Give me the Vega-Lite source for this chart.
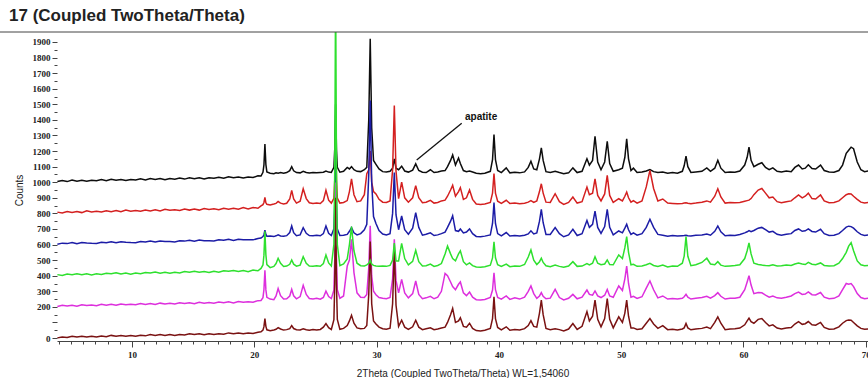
{
"$schema": "https://vega.github.io/schema/vega-lite/v6.json",
"width": 811, "height": 309,
"autosize": {"type": "none"},
"padding": {"left": 57, "top": 32, "right": 0, "bottom": 37},
"background": "white",
"config": {"view": {"stroke": null}, "font": "Liberation Sans"},
"title": {"text": "17 (Coupled TwoTheta/Theta)", "anchor": "start", "frame": "group", "dx": -48, "offset": 7, "fontSize": 17, "fontWeight": "bold", "font": "Liberation Sans", "color": "#222"},
"datasets": {
"xrd": [
{"x":3.9,"k":1004,"r":808,"b":602,"g":407,"m":203,"n":1},
{"x":4.3,"k":1011,"r":803,"b":609,"g":402,"m":210,"n":7},
{"x":4.7,"k":1004,"r":812,"b":606,"g":411,"m":205,"n":4},
{"x":5.1,"k":1014,"r":806,"b":613,"g":407,"m":211,"n":12},
{"x":5.5,"k":1007,"r":812,"b":605,"g":413,"m":204,"n":6},
{"x":5.9,"k":1013,"r":805,"b":613,"g":406,"m":214,"n":12},
{"x":6.3,"k":1006,"r":816,"b":610,"g":412,"m":209,"n":6},
{"x":6.7,"k":1013,"r":809,"b":608,"g":405,"m":212,"n":12},
{"x":7.1,"k":1009,"r":813,"b":607,"g":412,"m":208,"n":6},
{"x":7.5,"k":1017,"r":809,"b":615,"g":408,"m":216,"n":13},
{"x":7.9,"k":1009,"r":817,"b":611,"g":416,"m":210,"n":9},
{"x":8.3,"k":1019,"r":811,"b":618,"g":412,"m":216,"n":17},
{"x":8.7,"k":1013,"r":818,"b":611,"g":419,"m":210,"n":12},
{"x":9.1,"k":1018,"r":810,"b":618,"g":411,"m":219,"n":17},
{"x":9.5,"k":1011,"r":821,"b":615,"g":417,"m":214,"n":11},
{"x":9.9,"k":1018,"r":814,"b":613,"g":410,"m":217,"n":17},
{"x":10.3,"k":1014,"r":818,"b":612,"g":417,"m":213,"n":11},
{"x":10.7,"k":1022,"r":814,"b":620,"g":413,"m":221,"n":18},
{"x":11.1,"k":1014,"r":822,"b":616,"g":421,"m":215,"n":14},
{"x":11.5,"k":1024,"r":816,"b":623,"g":417,"m":221,"n":22},
{"x":11.9,"k":1018,"r":823,"b":616,"g":424,"m":215,"n":17},
{"x":12.3,"k":1023,"r":815,"b":623,"g":416,"m":224,"n":22},
{"x":12.7,"k":1016,"r":826,"b":620,"g":422,"m":219,"n":16},
{"x":13.1,"k":1024,"r":820,"b":619,"g":416,"m":223,"n":23},
{"x":13.5,"k":1019,"r":823,"b":617,"g":422,"m":218,"n":16},
{"x":13.9,"k":1027,"r":819,"b":625,"g":418,"m":226,"n":23},
{"x":14.3,"k":1020,"r":828,"b":622,"g":427,"m":221,"n":20},
{"x":14.7,"k":1029,"r":821,"b":628,"g":422,"m":226,"n":27},
{"x":15.1,"k":1023,"r":828,"b":621,"g":429,"m":220,"n":22},
{"x":15.5,"k":1029,"r":821,"b":629,"g":422,"m":230,"n":28},
{"x":15.9,"k":1021,"r":831,"b":625,"g":427,"m":224,"n":21},
{"x":16.3,"k":1029,"r":825,"b":624,"g":421,"m":228,"n":28},
{"x":16.7,"k":1025,"r":829,"b":623,"g":428,"m":224,"n":22},
{"x":17.1,"k":1032,"r":824,"b":630,"g":423,"m":231,"n":28},
{"x":17.5,"k":1025,"r":833,"b":627,"g":432,"m":226,"n":25},
{"x":17.9,"k":1035,"r":827,"b":634,"g":428,"m":232,"n":33},
{"x":18.3,"k":1028,"r":833,"b":626,"g":434,"m":225,"n":27},
{"x":18.7,"k":1034,"r":826,"b":634,"g":427,"m":235,"n":33},
{"x":19.1,"k":1027,"r":837,"b":631,"g":433,"m":230,"n":27},
{"x":19.5,"k":1034,"r":829,"b":630,"g":426,"m":233,"n":33},
{"x":19.9,"k":1030,"r":838,"b":630,"g":436,"m":230,"n":29},
{"x":20.3,"k":1041,"r":833,"b":639,"g":432,"m":240,"n":37},
{"x":20.55,"k":1040,"r":848,"b":642,"g":447,"m":241,"n":40},
{"x":20.71,"k":1064,"r":856,"b":651,"g":469,"m":259,"n":51},
{"x":20.79,"k":1111,"r":870,"b":663,"g":532,"m":311,"n":73},
{"x":20.87,"k":1245,"r":902,"b":692,"g":685,"m":434,"n":125},
{"x":20.95,"k":1113,"r":868,"b":665,"g":534,"m":309,"n":75},
{"x":21.03,"k":1066,"r":858,"b":653,"g":471,"m":261,"n":53},
{"x":21.3,"k":1058,"r":854,"b":655,"g":452,"m":250,"n":47},
{"x":21.6,"k":1054,"r":860,"b":651,"g":460,"m":246,"n":52},
{"x":21.78,"k":1060,"r":864,"b":656,"g":478,"m":270,"n":56},
{"x":21.95,"k":1057,"r":876,"b":662,"g":512,"m":318,"n":67},
{"x":22.15,"k":1062,"r":866,"b":655,"g":480,"m":272,"n":58},
{"x":22.4,"k":1058,"r":860,"b":653,"g":459,"m":250,"n":51},
{"x":22.65,"k":1062,"r":865,"b":657,"g":462,"m":252,"n":54},
{"x":22.9,"k":1074,"r":892,"b":677,"g":473,"m":270,"n":60},
{"x":23.06,"k":1100,"r":948,"b":719,"g":501,"m":312,"n":80},
{"x":23.22,"k":1073,"r":893,"b":676,"g":474,"m":271,"n":61},
{"x":23.45,"k":1062,"r":866,"b":657,"g":461,"m":252,"n":53},
{"x":23.75,"k":1060,"r":878,"b":662,"g":468,"m":266,"n":52},
{"x":24.0,"k":1070,"r":958,"b":708,"g":522,"m":338,"n":60},
{"x":24.25,"k":1062,"r":895,"b":672,"g":480,"m":280,"n":53},
{"x":24.5,"k":1059,"r":868,"b":658,"g":462,"m":254,"n":50},
{"x":24.8,"k":1063,"r":864,"b":656,"g":460,"m":251,"n":54},
{"x":25.1,"k":1060,"r":867,"b":659,"g":464,"m":255,"n":52},
{"x":25.4,"k":1062,"r":863,"b":656,"g":461,"m":249,"n":55},
{"x":25.65,"k":1064,"r":882,"b":670,"g":478,"m":260,"n":70},
{"x":25.86,"k":1072,"r":948,"b":719,"g":533,"m":301,"n":93},
{"x":26.08,"k":1065,"r":885,"b":672,"g":482,"m":266,"n":66},
{"x":26.3,"k":1063,"r":866,"b":658,"g":462,"m":253,"n":55},
{"x":26.51,"k":1095,"r":897,"b":702,"g":602,"m":308,"n":118},
{"x":26.58,"k":1214,"r":1016,"b":861,"g":1088,"m":510,"n":348},
{"x":26.65,"k":1500,"r":1302,"b":1245,"g":2258,"m":998,"n":900},
{"x":26.72,"k":1212,"r":1018,"b":860,"g":1090,"m":512,"n":345},
{"x":26.79,"k":1096,"r":898,"b":700,"g":600,"m":310,"n":120},
{"x":27.0,"k":1064,"r":866,"b":658,"g":464,"m":255,"n":56},
{"x":27.3,"k":1070,"r":870,"b":660,"g":475,"m":270,"n":62},
{"x":27.6,"k":1095,"r":882,"b":665,"g":508,"m":462,"n":80},
{"x":27.78,"k":1085,"r":940,"b":685,"g":600,"m":500,"n":110},
{"x":27.95,"k":1100,"r":1022,"b":708,"g":715,"m":633,"n":146},
{"x":28.15,"k":1080,"r":920,"b":675,"g":560,"m":420,"n":95},
{"x":28.4,"k":1070,"r":875,"b":662,"g":480,"m":290,"n":65},
{"x":28.7,"k":1068,"r":880,"b":670,"g":464,"m":262,"n":60},
{"x":29.0,"k":1080,"r":920,"b":695,"g":462,"m":260,"n":62},
{"x":29.2,"k":1095,"r":1055,"b":730,"g":470,"m":280,"n":80},
{"x":29.36,"k":1400,"r":1080,"b":1050,"g":480,"m":450,"n":280},
{"x":29.48,"k":1920,"r":1200,"b":1525,"g":500,"m":720,"n":620},
{"x":29.6,"k":1350,"r":1000,"b":1000,"g":475,"m":400,"n":220},
{"x":29.75,"k":1140,"r":940,"b":780,"g":466,"m":300,"n":110},
{"x":29.95,"k":1115,"r":925,"b":735,"g":462,"m":278,"n":90},
{"x":30.2,"k":1085,"r":890,"b":690,"g":460,"m":260,"n":70},
{"x":30.5,"k":1068,"r":872,"b":668,"g":463,"m":255,"n":60},
{"x":30.8,"k":1065,"r":870,"b":662,"g":460,"m":252,"n":57},
{"x":31.1,"k":1070,"r":880,"b":670,"g":466,"m":260,"n":63},
{"x":31.31,"k":1090,"r":1080,"b":800,"g":500,"m":380,"n":220},
{"x":31.45,"k":1150,"r":1492,"b":1062,"g":610,"m":633,"n":565},
{"x":31.59,"k":1090,"r":1070,"b":790,"g":495,"m":370,"n":210},
{"x":31.8,"k":1080,"r":895,"b":695,"g":495,"m":290,"n":75},
{"x":32.05,"k":1103,"r":1001,"b":783,"g":608,"m":376,"n":114},
{"x":32.3,"k":1072,"r":900,"b":695,"g":510,"m":290,"n":70},
{"x":32.6,"k":1065,"r":872,"b":666,"g":470,"m":258,"n":56},
{"x":32.95,"k":1078,"r":900,"b":705,"g":492,"m":285,"n":72},
{"x":33.2,"k":1118,"r":978,"b":805,"g":563,"m":366,"n":114},
{"x":33.45,"k":1075,"r":900,"b":710,"g":490,"m":280,"n":70},
{"x":33.75,"k":1064,"r":868,"b":660,"g":462,"m":252,"n":54},
{"x":34.05,"k":1062,"r":872,"b":666,"g":464,"m":258,"n":60},
{"x":34.4,"k":1080,"r":884,"b":675,"g":475,"m":268,"n":66},
{"x":34.7,"k":1062,"r":866,"b":658,"g":460,"m":252,"n":54},
{"x":35.0,"k":1066,"r":870,"b":662,"g":466,"m":262,"n":58},
{"x":35.3,"k":1072,"r":880,"b":670,"g":478,"m":300,"n":64},
{"x":35.6,"k":1075,"r":885,"b":680,"g":540,"m":415,"n":70},
{"x":35.8,"k":1100,"r":910,"b":710,"g":590,"m":400,"n":100},
{"x":36.05,"k":1140,"r":950,"b":750,"g":540,"m":360,"n":150},
{"x":36.22,"k":1175,"r":980,"b":785,"g":510,"m":330,"n":190},
{"x":36.45,"k":1110,"r":910,"b":690,"g":495,"m":310,"n":100},
{"x":36.7,"k":1155,"r":940,"b":685,"g":540,"m":345,"n":110},
{"x":36.85,"k":1120,"r":965,"b":700,"g":560,"m":360,"n":130},
{"x":37.1,"k":1075,"r":890,"b":675,"g":490,"m":290,"n":75},
{"x":37.35,"k":1068,"r":900,"b":680,"g":470,"m":272,"n":70},
{"x":37.6,"k":1072,"r":950,"b":700,"g":482,"m":295,"n":95},
{"x":37.85,"k":1066,"r":890,"b":670,"g":465,"m":262,"n":62},
{"x":38.15,"k":1058,"r":860,"b":652,"g":456,"m":246,"n":48},
{"x":38.5,"k":1055,"r":857,"b":650,"g":454,"m":244,"n":45},
{"x":38.85,"k":1058,"r":860,"b":654,"g":458,"m":248,"n":50},
{"x":39.3,"k":1070,"r":870,"b":662,"g":468,"m":260,"n":62},
{"x":39.48,"k":1145,"r":930,"b":735,"g":514,"m":308,"n":125},
{"x":39.6,"k":1306,"r":1055,"b":869,"g":618,"m":419,"n":264},
{"x":39.72,"k":1145,"r":930,"b":735,"g":515,"m":310,"n":125},
{"x":39.9,"k":1075,"r":878,"b":670,"g":470,"m":260,"n":68},
{"x":40.2,"k":1062,"r":864,"b":656,"g":460,"m":250,"n":52},
{"x":40.6,"k":1092,"r":884,"b":677,"g":475,"m":270,"n":72},
{"x":40.9,"k":1060,"r":863,"b":655,"g":458,"m":248,"n":50},
{"x":41.3,"k":1064,"r":866,"b":658,"g":462,"m":258,"n":54},
{"x":41.7,"k":1060,"r":862,"b":655,"g":460,"m":250,"n":52},
{"x":42.1,"k":1066,"r":865,"b":660,"g":472,"m":262,"n":60},
{"x":42.4,"k":1095,"r":872,"b":668,"g":520,"m":300,"n":80},
{"x":42.62,"k":1135,"r":882,"b":688,"g":565,"m":334,"n":112},
{"x":42.85,"k":1085,"r":870,"b":668,"g":500,"m":285,"n":75},
{"x":43.1,"k":1080,"r":880,"b":675,"g":472,"m":255,"n":70},
{"x":43.32,"k":1150,"r":940,"b":750,"g":490,"m":270,"n":160},
{"x":43.47,"k":1220,"r":990,"b":826,"g":512,"m":291,"n":243},
{"x":43.62,"k":1140,"r":930,"b":740,"g":485,"m":268,"n":150},
{"x":43.85,"k":1068,"r":872,"b":665,"g":464,"m":252,"n":62},
{"x":44.2,"k":1062,"r":870,"b":665,"g":458,"m":256,"n":54},
{"x":44.6,"k":1070,"r":926,"b":709,"g":468,"m":312,"n":60},
{"x":44.95,"k":1062,"r":875,"b":670,"g":460,"m":260,"n":54},
{"x":45.3,"k":1055,"r":858,"b":650,"g":454,"m":244,"n":46},
{"x":45.7,"k":1060,"r":870,"b":662,"g":462,"m":255,"n":58},
{"x":46.05,"k":1092,"r":905,"b":698,"g":490,"m":280,"n":93},
{"x":46.4,"k":1062,"r":866,"b":658,"g":460,"m":252,"n":55},
{"x":46.8,"k":1070,"r":875,"b":670,"g":462,"m":262,"n":75},
{"x":47.2,"k":1150,"r":969,"b":755,"g":478,"m":308,"n":170},
{"x":47.4,"k":1110,"r":920,"b":710,"g":470,"m":280,"n":110},
{"x":47.66,"k":1140,"r":930,"b":730,"g":480,"m":275,"n":140},
{"x":47.86,"k":1295,"r":1022,"b":815,"g":522,"m":302,"n":243},
{"x":48.08,"k":1130,"r":915,"b":710,"g":480,"m":270,"n":120},
{"x":48.35,"k":1080,"r":880,"b":672,"g":470,"m":260,"n":72},
{"x":48.65,"k":1130,"r":925,"b":715,"g":475,"m":275,"n":125},
{"x":48.86,"k":1263,"r":1044,"b":826,"g":501,"m":312,"n":253},
{"x":49.06,"k":1120,"r":915,"b":710,"g":472,"m":270,"n":120},
{"x":49.35,"k":1070,"r":870,"b":662,"g":470,"m":262,"n":65},
{"x":49.8,"k":1080,"r":894,"b":687,"g":533,"m":334,"n":136},
{"x":50.1,"k":1090,"r":880,"b":675,"g":510,"m":305,"n":100},
{"x":50.3,"k":1160,"r":910,"b":705,"g":580,"m":380,"n":160},
{"x":50.45,"k":1278,"r":937,"b":730,"g":651,"m":462,"n":243},
{"x":50.6,"k":1150,"r":900,"b":695,"g":550,"m":350,"n":140},
{"x":50.8,"k":1075,"r":872,"b":665,"g":470,"m":262,"n":65},
{"x":51.0,"k":1090,"r":882,"b":675,"g":473,"m":268,"n":65},
{"x":51.3,"k":1062,"r":866,"b":660,"g":460,"m":254,"n":55},
{"x":51.7,"k":1065,"r":880,"b":670,"g":462,"m":265,"n":60},
{"x":52.05,"k":1072,"r":970,"b":710,"g":470,"m":320,"n":95},
{"x":52.35,"k":1081,"r":1076,"b":762,"g":479,"m":366,"n":125},
{"x":52.65,"k":1068,"r":960,"b":710,"g":466,"m":310,"n":90},
{"x":53.0,"k":1062,"r":880,"b":665,"g":460,"m":258,"n":62},
{"x":53.4,"k":1065,"r":892,"b":660,"g":468,"m":270,"n":80},
{"x":53.8,"k":1058,"r":866,"b":654,"g":456,"m":250,"n":54},
{"x":54.2,"k":1062,"r":864,"b":658,"g":462,"m":254,"n":56},
{"x":54.6,"k":1058,"r":862,"b":655,"g":460,"m":250,"n":52},
{"x":55.0,"k":1070,"r":864,"b":657,"g":480,"m":255,"n":58},
{"x":55.15,"k":1105,"r":866,"b":658,"g":525,"m":265,"n":65},
{"x":55.3,"k":1167,"r":868,"b":660,"g":651,"m":280,"n":93},
{"x":55.45,"k":1100,"r":865,"b":657,"g":525,"m":262,"n":65},
{"x":55.7,"k":1063,"r":862,"b":655,"g":464,"m":250,"n":53},
{"x":56.1,"k":1066,"r":866,"b":660,"g":470,"m":256,"n":58},
{"x":56.6,"k":1070,"r":872,"b":662,"g":485,"m":260,"n":62},
{"x":57.0,"k":1092,"r":880,"b":668,"g":512,"m":268,"n":70},
{"x":57.3,"k":1070,"r":872,"b":660,"g":475,"m":256,"n":60},
{"x":57.65,"k":1090,"r":910,"b":685,"g":470,"m":272,"n":100},
{"x":57.9,"k":1141,"r":958,"b":719,"g":490,"m":291,"n":136},
{"x":58.15,"k":1090,"r":905,"b":682,"g":468,"m":268,"n":95},
{"x":58.5,"k":1062,"r":866,"b":656,"g":460,"m":250,"n":54},
{"x":58.9,"k":1066,"r":870,"b":660,"g":463,"m":255,"n":58},
{"x":59.3,"k":1064,"r":868,"b":658,"g":466,"m":256,"n":60},
{"x":59.7,"k":1072,"r":870,"b":664,"g":470,"m":262,"n":64},
{"x":60.1,"k":1110,"r":878,"b":675,"g":510,"m":310,"n":85},
{"x":60.3,"k":1160,"r":882,"b":682,"g":560,"m":360,"n":110},
{"x":60.45,"k":1225,"r":885,"b":690,"g":610,"m":400,"n":128},
{"x":60.62,"k":1140,"r":895,"b":682,"g":540,"m":340,"n":105},
{"x":60.85,"k":1100,"r":920,"b":690,"g":480,"m":285,"n":95},
{"x":61.2,"k":1115,"r":950,"b":705,"g":472,"m":292,"n":120},
{"x":61.5,"k":1125,"r":960,"b":710,"g":468,"m":290,"n":125},
{"x":61.8,"k":1095,"r":930,"b":695,"g":465,"m":275,"n":100},
{"x":62.1,"k":1080,"r":900,"b":680,"g":464,"m":262,"n":78},
{"x":62.4,"k":1092,"r":905,"b":685,"g":470,"m":270,"n":85},
{"x":62.75,"k":1070,"r":875,"b":666,"g":462,"m":258,"n":64},
{"x":63.1,"k":1066,"r":868,"b":660,"g":464,"m":255,"n":58},
{"x":63.5,"k":1072,"r":875,"b":666,"g":468,"m":262,"n":64},
{"x":63.9,"k":1068,"r":880,"b":670,"g":466,"m":270,"n":68},
{"x":64.2,"k":1095,"r":900,"b":690,"g":475,"m":285,"n":90},
{"x":64.5,"k":1110,"r":918,"b":700,"g":482,"m":295,"n":105},
{"x":64.8,"k":1085,"r":900,"b":685,"g":475,"m":280,"n":88},
{"x":65.05,"k":1090,"r":910,"b":688,"g":472,"m":282,"n":92},
{"x":65.3,"k":1112,"r":930,"b":700,"g":486,"m":296,"n":106},
{"x":65.6,"k":1088,"r":895,"b":684,"g":474,"m":278,"n":85},
{"x":65.9,"k":1085,"r":892,"b":680,"g":470,"m":276,"n":82},
{"x":66.3,"k":1110,"r":918,"b":698,"g":482,"m":292,"n":100},
{"x":66.6,"k":1075,"r":880,"b":670,"g":466,"m":262,"n":68},
{"x":67.0,"k":1066,"r":868,"b":658,"g":462,"m":252,"n":56},
{"x":67.4,"k":1064,"r":870,"b":660,"g":464,"m":255,"n":58},
{"x":67.8,"k":1075,"r":880,"b":670,"g":480,"m":270,"n":72},
{"x":68.1,"k":1110,"r":900,"b":690,"g":510,"m":310,"n":95},
{"x":68.4,"k":1185,"r":920,"b":712,"g":550,"m":350,"n":112},
{"x":68.6,"k":1205,"r":926,"b":718,"g":590,"m":345,"n":115},
{"x":68.8,"k":1225,"r":924,"b":715,"g":612,"m":350,"n":114},
{"x":69.0,"k":1215,"r":910,"b":705,"g":560,"m":330,"n":100},
{"x":69.3,"k":1130,"r":890,"b":682,"g":495,"m":285,"n":78},
{"x":69.6,"k":1080,"r":872,"b":665,"g":470,"m":260,"n":62},
{"x":69.9,"k":1068,"r":866,"b":658,"g":464,"m":252,"n":56},
{"x":70.2,"k":1072,"r":870,"b":662,"g":466,"m":255,"n":58}
]
},
"encoding": {
"x": {"type": "quantitative", "scale": {"domain": [3.87, 70.18], "nice": false, "zero": false},
"axis": {"values": [4,5,6,7,8,9,10,11,12,13,14,15,16,17,18,19,20,21,22,23,24,25,26,27,28,29,30,31,32,33,34,35,36,37,38,39,40,41,42,43,44,45,46,47,48,49,50,51,52,53,54,55,56,57,58,59,60,61,62,63,64,65,66,67,68,69,70],
"labelExpr": "datum.value % 10 === 0 ? datum.label : ''", "format": "d",
"tickSize": {"condition": {"test": "datum.value % 10 === 0", "value": 6}, "value": 3},
"tickColor": "#444", "domainColor": "#444", "grid": false,
"labelFontSize": 9, "labelFont": "Liberation Sans Narrow", "labelFontWeight": "bold", "labelColor": "#222", "labelPadding": 3,
"title": "2Theta (Coupled TwoTheta/Theta) WL=1,54060", "titleFontSize": 10, "titleFontWeight": "normal", "titleColor": "#222", "titlePadding": 9}},
"y": {"type": "quantitative", "scale": {"domain": [-19, 1964], "nice": false, "zero": false},
"axis": {"values": [0,50,100,150,200,250,300,350,400,450,500,550,600,650,700,750,800,850,900,950,1000,1050,1100,1150,1200,1250,1300,1350,1400,1450,1500,1550,1600,1650,1700,1750,1800,1850,1900],
"labelExpr": "datum.value % 100 === 0 && datum.value !== 100 ? datum.label : ''", "format": "d",
"tickSize": {"condition": {"test": "datum.value % 100 === 0", "value": 5}, "value": 3},
"tickColor": "#444", "domain": false, "grid": false,
"labelFontSize": 9, "labelFont": "Liberation Sans Narrow", "labelFontWeight": "bold", "labelColor": "#222", "labelPadding": 2,
"title": "Counts", "titleFontSize": 10, "titleFontWeight": "normal", "titleColor": "#222", "titleX": -35, "titleY": 158, "titleBaseline": "alphabetic", "titleAngle": -90}}
},
"layer": [
{
"data": {"name": "xrd"},
"transform": [{"fold": ["k","r","b","m","n","g"], "as": ["s","v"]}],
"mark": {"type": "line", "strokeWidth": 1.5, "clip": true},
"encoding": {
"x": {"field": "x"},
"y": {"field": "v"},
"color": {"field": "s", "type": "nominal", "legend": null,
"scale": {"domain": ["k","r","b","m","n","g"], "range": ["#0d0d0d","#d42020","#1c1ca6","#dd2fdd","#7a1212","#2ee02e"]}}
}
},
{
"data": {"values": [{}]},
"mark": {"type": "rule", "color": "#444", "strokeWidth": 1, "clip": false},
"encoding": {
"x": {"datum": -0.8},
"x2": {"datum": 70.18},
"y": {"datum": 1964}
}
},
{
"data": {"values": [{}]},
"mark": {"type": "rule", "color": "#111", "strokeWidth": 1.3},
"encoding": {
"x": {"datum": 36.96},
"x2": {"datum": 33.28},
"y": {"datum": 1378},
"y2": {"datum": 1143}
}
},
{
"data": {"values": [{}]},
"mark": {"type": "text", "text": "apatite", "align": "left", "baseline": "middle", "fontSize": 10, "fontWeight": "bold", "font": "Liberation Sans", "color": "#111"},
"encoding": {
"x": {"datum": 37.23},
"y": {"datum": 1420}
}
}
]
}
